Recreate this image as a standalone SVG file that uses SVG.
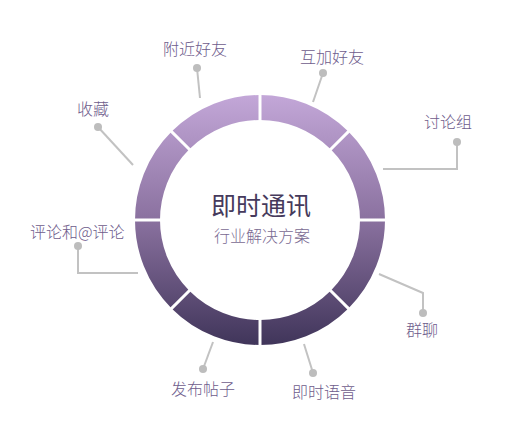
<svg xmlns="http://www.w3.org/2000/svg" width="520" height="440" viewBox="0 0 520 440">
<style>
.lbl{font-family:"Noto Sans CJK SC","Liberation Sans",sans-serif;font-size:16px;font-weight:300;fill:#6e5c8c}
.ln{stroke:#c2c2c2;stroke-width:2;fill:none}
.dot{fill:#bdbdbd}
.gap{stroke:#ffffff;stroke-width:3}
</style>
<defs>
<linearGradient id="g" gradientUnits="userSpaceOnUse" x1="0" y1="95" x2="0" y2="345">
<stop offset="0" stop-color="#C3A7D8"/>
<stop offset="0.5" stop-color="#8A719F"/>
<stop offset="1" stop-color="#40355A"/>
</linearGradient>
</defs>
<rect width="520" height="440" fill="#ffffff"/>
<g id="ring">
<circle cx="260" cy="220" r="112.5" fill="none" stroke="url(#g)" stroke-width="25"/>
<line class="gap" x1="260" y1="90" x2="260" y2="125"/>
<line class="gap" x1="260" y1="315" x2="260" y2="350"/>
<line class="gap" x1="130" y1="220" x2="165" y2="220"/>
<line class="gap" x1="355" y1="220" x2="390" y2="220"/>
<line class="gap" x1="327.2" y1="152.8" x2="351.9" y2="128.1"/>
<line class="gap" x1="192.8" y1="287.2" x2="168.1" y2="311.9"/>
<line class="gap" x1="192.8" y1="152.8" x2="168.1" y2="128.1"/>
<line class="gap" x1="327.2" y1="287.2" x2="351.9" y2="311.9"/>
</g>
<g id="center">
<text x="261" y="215" text-anchor="middle" font-family="Noto Sans CJK SC, Liberation Sans, sans-serif" font-size="25" fill="#463a5c">即时通讯</text>
<text x="262" y="242" text-anchor="middle" font-family="Noto Sans CJK SC, Liberation Sans, sans-serif" font-size="16" font-weight="300" fill="#7a6a92">行业解决方案</text>
</g>
<g id="connectors">
<polyline class="ln" points="200,98 197,68"/><circle class="dot" cx="197" cy="68" r="4"/>
<polyline class="ln" points="313,102 323,73"/><circle class="dot" cx="323" cy="73" r="4"/>
<polyline class="ln" points="133,165 98,127"/><circle class="dot" cx="98" cy="127" r="4"/>
<polyline class="ln" points="383,169 457,169 457,142"/><circle class="dot" cx="457" cy="142" r="4"/>
<polyline class="ln" points="138,273 78,273 78,246"/><circle class="dot" cx="78" cy="246" r="4"/>
<polyline class="ln" points="379,274 423,293 423,313"/><circle class="dot" cx="423" cy="313" r="4"/>
<polyline class="ln" points="213,342 203,369"/><circle class="dot" cx="203" cy="369" r="4"/>
<polyline class="ln" points="304,344 313,373"/><circle class="dot" cx="313" cy="373" r="4"/>
</g>
<g id="n-fujin"><text class="lbl" x="163" y="55">附近好友</text></g>
<g id="n-hujia"><text class="lbl" x="300" y="63">互加好友</text></g>
<g id="n-shoucang"><text class="lbl" x="77" y="115">收藏</text></g>
<g id="n-taolunzu"><text class="lbl" x="424" y="128">讨论组</text></g>
<g id="n-pinglun"><text class="lbl" x="30" y="238">评论和@评论</text></g>
<g id="n-qunliao"><text class="lbl" x="406" y="336">群聊</text></g>
<g id="n-fabu"><text class="lbl" x="171" y="395">发布帖子</text></g>
<g id="n-yuyin"><text class="lbl" x="292" y="398">即时语音</text></g>
</svg>
